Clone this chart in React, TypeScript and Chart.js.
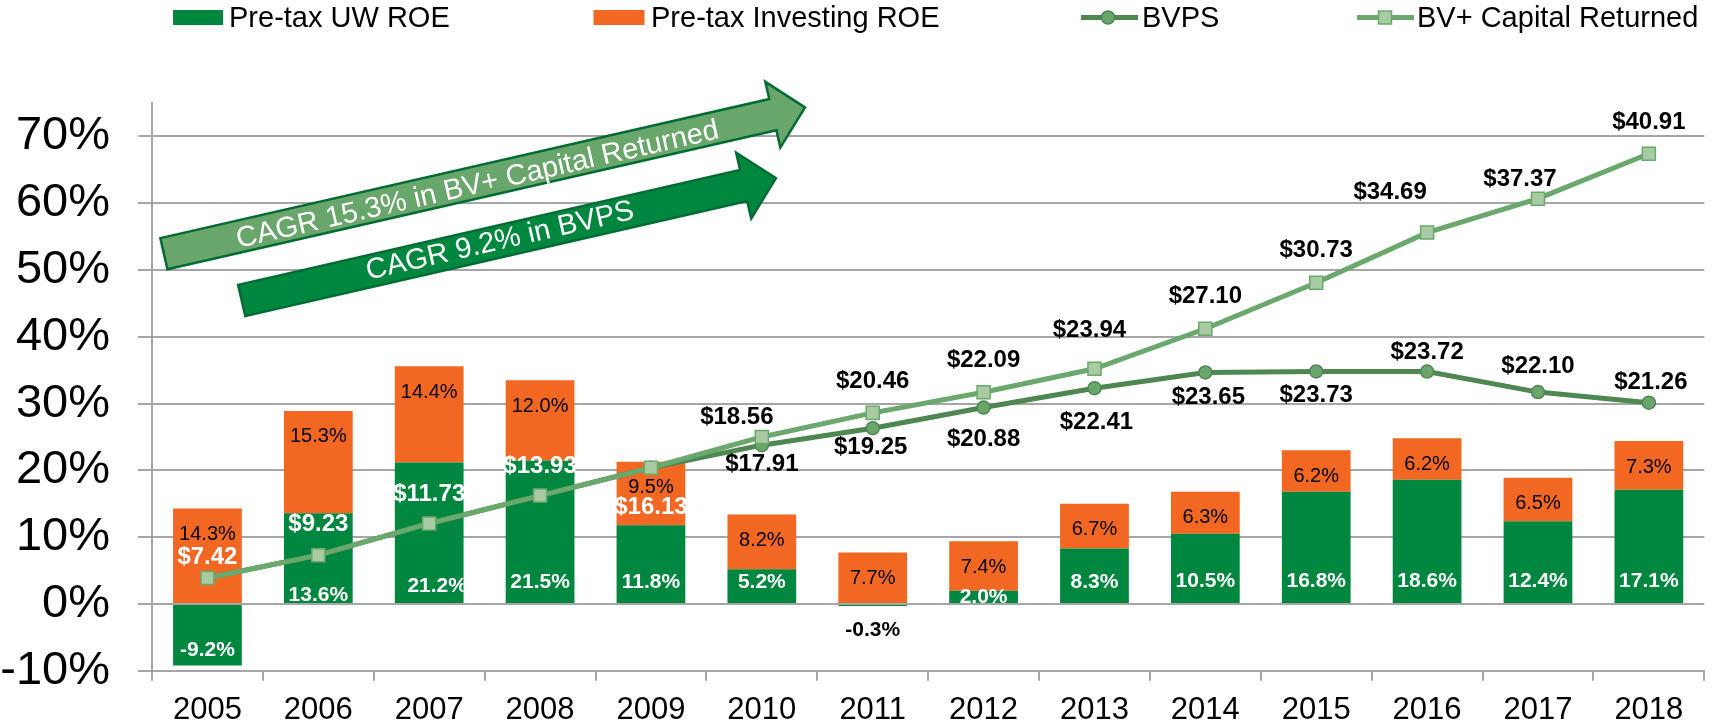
import React, { useEffect, useRef } from 'react';
import { Chart, registerables } from 'chart.js';

Chart.register(...registerables);

// ---------- data ----------
const years = ['2005', '2006', '2007', '2008', '2009', '2010', '2011', '2012', '2013', '2014', '2015', '2016', '2017', '2018'];
const uwRoe = [-9.2, 13.6, 21.2, 21.5, 11.8, 5.2, -0.3, 2.0, 8.3, 10.5, 16.8, 18.6, 12.4, 17.1];
const investingRoe = [14.3, 15.3, 14.4, 12.0, 9.5, 8.2, 7.7, 7.4, 6.7, 6.3, 6.2, 6.2, 6.5, 7.3];
const bvps = [7.42, 9.23, 11.73, 13.93, 16.13, 17.91, 19.25, 20.88, 22.41, 23.65, 23.73, 23.72, 22.10, 21.26];
const bvCapReturned = [7.42, 9.23, 11.73, 13.93, 16.13, 18.56, 20.46, 22.09, 23.94, 27.10, 30.73, 34.69, 37.37, 40.91];
const yTickValues = [-10, 0, 10, 20, 30, 40, 50, 60, 70];
const legendLabels = ['Pre-tax UW ROE', 'Pre-tax Investing ROE', 'BVPS', 'BV+ Capital Returned'];
const arrowTexts = ['CAGR 15.3% in BV+ Capital Returned', 'CAGR 9.2% in BVPS'];

// ---------- label layout (pixel nudges, as in the original) ----------
const bvcrLabelOffset: [number, number][] = [
  [0, -21], [0, -31], [0, -29], [0, -29], [0, 40], [-25, -20], [0, -31],
  [0, -32], [-5, -38], [0, -32], [0, -32], [-37, -40], [-18, -19], [0, -31],
];
const bvcrLabelOnBar = [true, true, true, true, true, false, false, false, false, false, false, false, false, false];
const bvpsLabelOffset: ([number, number] | null)[] = [
  null, null, null, null, null, [0, 19], [-2, 19], [0, 32], [2, 34], [3, 25], [0, 24], [0, -19], [0, -26], [2, -20],
];
const uwLabelDy = [46.5, -8.5, -17.5, -22, -21.5, -21.5, 26, -7, -21.5, -22.5, -22.5, -22.5, -22.5, -22.5];
const uwLabelDx = [0, 0, 8, 0, 0, 0, 0, 0, 0, 0, 0, 0, 0, 0];

// ---------- styles ----------
const FONT = '"Liberation Sans", Arial, Helvetica, sans-serif';
const GREEN = '#00873F';
const ORANGE = '#F26722';
const BVPS_LINE = '#4F8753';
const BVPS_FILL = '#6AA56B';
const BVCR_LINE = '#6AA86D';
const BVCR_FILL = '#A8CBA4';
const GRID = '#A6A6A6';
const ARROW_LIGHT = '#69A66B';
const ARROW_BORDER = '#006B32';

const fmtPct = (v: number) => v.toFixed(1) + '%';
const fmtUsd = (v: number) => '$' + v.toFixed(2);

const labelPlugin = {
  id: 'customLabels',
  afterDatasetsDraw(chart: any) {
    const ctx = chart.ctx as CanvasRenderingContext2D;
    const zero = chart.scales.y.getPixelForValue(0);
    const uwMeta = chart.getDatasetMeta(0);
    const invMeta = chart.getDatasetMeta(1);
    const bvpsMeta = chart.getDatasetMeta(2);
    const bvcrMeta = chart.getDatasetMeta(3);
    ctx.save();
    ctx.textAlign = 'center';
    ctx.textBaseline = 'middle';

    ctx.font = `20px ${FONT}`;
    ctx.fillStyle = '#000';
    invMeta.data.forEach((el: any, i: number) => {
      ctx.fillText(fmtPct(investingRoe[i]), el.x, el.y + 26);
    });

    ctx.font = `bold 21px ${FONT}`;
    uwMeta.data.forEach((el: any, i: number) => {
      const v = uwRoe[i];
      const inside = Math.abs(v) >= 1;
      ctx.fillStyle = inside ? '#fff' : '#000';
      ctx.save();
      if (inside) {
        ctx.beginPath();
        ctx.rect(el.x - el.width / 2, 0, el.width, chart.height);
        ctx.clip();
      }
      ctx.fillText(fmtPct(v), el.x + uwLabelDx[i], zero + uwLabelDy[i]);
      ctx.restore();
    });

    ctx.font = `bold 24px ${FONT}`;
    bvcrMeta.data.forEach((el: any, i: number) => {
      const [dx, dy] = bvcrLabelOffset[i];
      ctx.fillStyle = bvcrLabelOnBar[i] ? '#fff' : '#000';
      ctx.fillText(fmtUsd(bvCapReturned[i]), el.x + dx, el.y + dy);
    });
    ctx.fillStyle = '#000';
    bvpsMeta.data.forEach((el: any, i: number) => {
      const off = bvpsLabelOffset[i];
      if (!off) return;
      ctx.fillText(fmtUsd(bvps[i]), el.x + off[0], el.y + off[1]);
    });
    ctx.restore();
  },
};

function drawArrow(
  ctx: CanvasRenderingContext2D,
  x0: number, y0: number, angleDeg: number, len: number,
  shaftHalf: number, headHalf: number, headLen: number,
  fill: string, text: string, textT: number, textOff: number,
) {
  ctx.save();
  ctx.translate(x0, y0);
  ctx.rotate((angleDeg * Math.PI) / 180);
  ctx.beginPath();
  ctx.moveTo(0, -shaftHalf);
  ctx.lineTo(len, -shaftHalf);
  ctx.lineTo(len, -headHalf);
  ctx.lineTo(len + headLen, 0);
  ctx.lineTo(len, headHalf);
  ctx.lineTo(len, shaftHalf);
  ctx.lineTo(0, shaftHalf);
  ctx.closePath();
  ctx.fillStyle = fill;
  ctx.fill();
  ctx.lineWidth = 2.5;
  ctx.strokeStyle = ARROW_BORDER;
  ctx.stroke();
  ctx.fillStyle = '#fff';
  ctx.font = `29px ${FONT}`;
  ctx.textAlign = 'center';
  ctx.textBaseline = 'middle';
  ctx.fillText(text, textT, textOff);
  ctx.restore();
}

const decorPlugin = {
  id: 'decor',
  afterDraw(chart: any) {
    const ctx = chart.ctx as CanvasRenderingContext2D;
    // arrows
    drawArrow(ctx, 163.9, 253.7, -12.86, 624.6, 16, 33.7, 33, ARROW_LIGHT, arrowTexts[0], 321, 3);
    drawArrow(ctx, 241.7, 300.5, -12.9, 515, 16, 33.7, 33, GREEN, arrowTexts[1], 265, 0);

    // legend
    ctx.save();
    ctx.font = `29px ${FONT}`;
    ctx.textAlign = 'left';
    ctx.textBaseline = 'alphabetic';
    const baseY = 27;
    const midY = 17.5;
    // item 1
    ctx.fillStyle = GREEN;
    ctx.fillRect(173, 10, 50, 15);
    ctx.fillStyle = '#000';
    ctx.fillText(legendLabels[0], 229, baseY);
    // item 2
    ctx.fillStyle = ORANGE;
    ctx.fillRect(593.5, 10, 51, 15);
    ctx.fillStyle = '#000';
    ctx.fillText(legendLabels[1], 651, baseY);
    // item 3
    ctx.strokeStyle = BVPS_LINE;
    ctx.lineWidth = 5;
    ctx.beginPath();
    ctx.moveTo(1081, midY);
    ctx.lineTo(1138, midY);
    ctx.stroke();
    ctx.beginPath();
    ctx.arc(1108, midY, 6.5, 0, Math.PI * 2);
    ctx.fillStyle = BVPS_FILL;
    ctx.fill();
    ctx.lineWidth = 1.5;
    ctx.stroke();
    ctx.fillStyle = '#000';
    ctx.fillText(legendLabels[2], 1142, baseY);
    // item 4
    ctx.strokeStyle = BVCR_LINE;
    ctx.lineWidth = 5;
    ctx.beginPath();
    ctx.moveTo(1357, midY);
    ctx.lineTo(1414, midY);
    ctx.stroke();
    ctx.fillStyle = BVCR_FILL;
    ctx.fillRect(1378.5, midY - 6.5, 13, 13);
    ctx.lineWidth = 1.5;
    ctx.strokeRect(1378.5, midY - 6.5, 13, 13);
    ctx.fillStyle = '#000';
    ctx.fillText(legendLabels[3], 1417, baseY);
    ctx.restore();
  },
};

export default function App() {
  const canvasRef = useRef<HTMLCanvasElement | null>(null);

  useEffect(() => {
    if (!canvasRef.current) return;
    Chart.defaults.font.family = FONT;
    const chart = new Chart(canvasRef.current, {
      type: 'bar',
      data: {
        labels: years,
        datasets: [
          {
            type: 'bar',
            label: legendLabels[0],
            data: uwRoe,
            backgroundColor: GREEN,
            yAxisID: 'y',
            stack: 'roe',
            order: 3,
            barPercentage: 0.62,
            categoryPercentage: 1,
          },
          {
            type: 'bar',
            label: legendLabels[1],
            data: investingRoe,
            backgroundColor: ORANGE,
            yAxisID: 'y',
            stack: 'roe',
            order: 3,
            barPercentage: 0.62,
            categoryPercentage: 1,
          },
          {
            type: 'line',
            label: legendLabels[2],
            data: bvps,
            yAxisID: 'y2',
            borderColor: BVPS_LINE,
            borderWidth: 5,
            pointStyle: 'circle',
            pointRadius: 6.5,
            pointBackgroundColor: BVPS_FILL,
            pointBorderColor: BVPS_LINE,
            pointBorderWidth: 1.5,
            tension: 0,
            order: 2,
          },
          {
            type: 'line',
            label: legendLabels[3],
            data: bvCapReturned,
            yAxisID: 'y2',
            borderColor: BVCR_LINE,
            borderWidth: 5,
            pointStyle: 'rect',
            pointRadius: 9.2,
            pointBackgroundColor: BVCR_FILL,
            pointBorderColor: BVCR_LINE,
            pointBorderWidth: 1.5,
            tension: 0,
            order: 1,
          },
        ] as any,
      },
      options: {
        animation: false,
        responsive: false,
        devicePixelRatio: 1,
        layout: { padding: { top: 103, left: 0, right: 0, bottom: 0 } },
        plugins: {
          legend: { display: false },
          tooltip: { enabled: false },
          title: { display: false },
        },
        scales: {
          x: {
            stacked: true,
            offset: true,
            grid: {
              display: true,
              drawOnChartArea: false,
              drawTicks: true,
              tickLength: 10,
              color: GRID,
              lineWidth: 2,
              offset: true,
            },
            border: { display: true, color: GRID, width: 2 },
            ticks: {
              color: '#000',
              font: { size: 31, family: FONT },
              padding: 11,
              maxRotation: 0,
              autoSkip: false,
            },
            afterFit: (s: any) => {
              s.height = 54;
            },
          },
          y: {
            stacked: true,
            min: -10,
            max: 75,
            afterBuildTicks: (s: any) => {
              s.ticks = yTickValues.map((v) => ({ value: v }));
            },
            ticks: {
              color: '#000',
              font: { size: 47, family: FONT },
              padding: 28,
              callback: (v: any) => v + '%',
            },
            grid: {
              color: GRID,
              lineWidth: 2,
              drawTicks: true,
              tickLength: 14,
            },
            border: { display: true, color: GRID, width: 2 },
            afterFit: (s: any) => {
              s.width = 152;
            },
          },
          y2: {
            type: 'linear',
            display: false,
            position: 'right',
            min: 0.1,
            max: 44.92,
          },
        },
      } as any,
      plugins: [labelPlugin, decorPlugin],
    });
    return () => chart.destroy();
  }, []);

  return (
    <div style={{ position: 'fixed', left: 0, top: 0, width: 1715, height: 727, background: '#fff' }}>
      <canvas ref={canvasRef} width={1715} height={727} style={{ width: 1715, height: 727, display: 'block' }} />
    </div>
  );
}
